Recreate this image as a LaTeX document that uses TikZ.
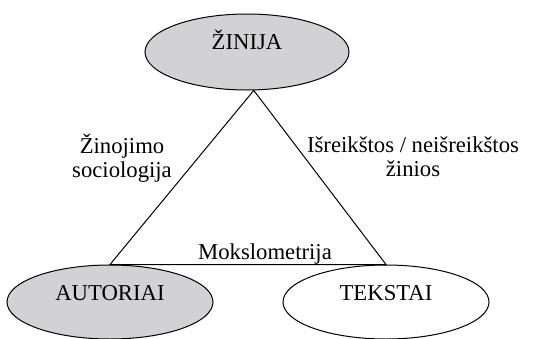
\documentclass[tikz,border=0pt]{standalone}
\usepackage{fontspec}
\setmainfont{Liberation Serif}
\usetikzlibrary{shapes.geometric}
\definecolor{ovalgray}{RGB}{210,210,212}
\begin{document}
\begin{tikzpicture}[x=0.5pt, y=-0.5pt, font=\fontsize{11.35}{12}\selectfont,
  oval/.style={ellipse, draw, line width=0.5pt, inner sep=0pt, minimum width=103pt, minimum height=37pt}]
\useasboundingbox (0,0) rectangle (552,338);
\node[oval, fill=ovalgray, minimum width=102pt, minimum height=38pt, text depth=12.5pt] (zinija) at (247,52) {ŽINIJA};
\node[oval, fill=ovalgray, text depth=9.5pt] (autoriai) at (110,302) {AUTORIAI};
\node[oval, text depth=9.5pt] (tekstai) at (386,302) {TEKSTAI};

\draw[line width=0.5pt] (zinija.-80) -- (autoriai.north) -- (tekstai.north) -- cycle;

\node[align=center] (sociologija) at (122,158) {Žinojimo\\sociologija};
\node[align=center] (zinios) at (413,157) {Išreikštos / neišreikštos\\žinios};
\node[anchor=base] (mokslometrija) at (265,259) {Mokslometrija};
\end{tikzpicture}
\end{document}
